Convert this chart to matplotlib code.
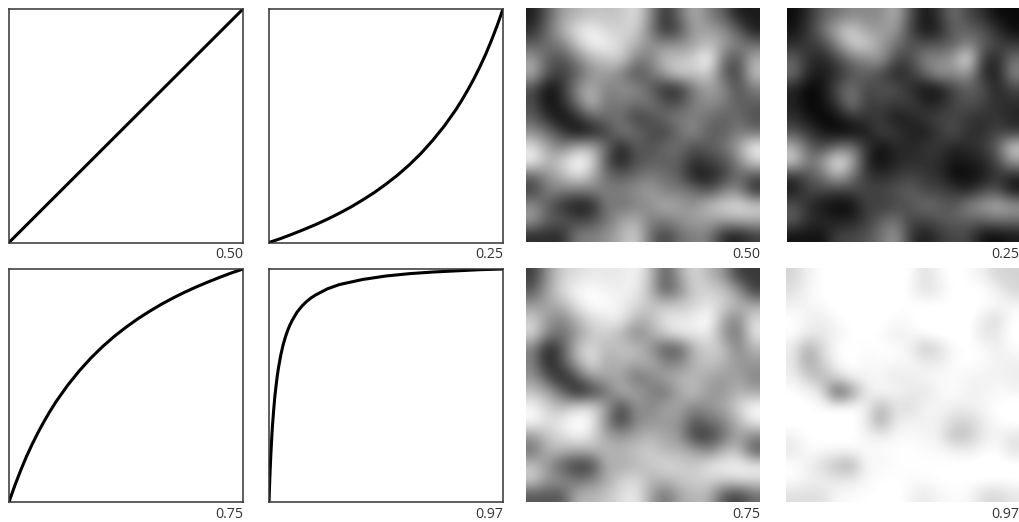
#!/usr/bin/env python3
import matplotlib

matplotlib.use("Agg")
import matplotlib.pyplot as plt
import numpy as np

plt.rcParams["font.family"] = ["Open Sans", "DejaVu Sans"]

W, H = 1019, 522

CURVE_50_X = [0, 1]
CURVE_50 = [0, 1]
CURVE_25_X = [0, .05, .1, .15, .2, .25, .3, .35, .4, .45, .5, .55, .6, .65, .7, .75, .8, .825, .85, .875, .9, .925, .95, .975, 1]
CURVE_25 = [0, .017, .036, .056, .077, .1, .125, .152, .182, .214, .25, .289, .333, .382, .438, .5, .571, .611, .654, .7, .75, .804, .864, .929, 1]
CURVE_75_X = [0, .025, .05, .075, .1, .125, .15, .175, .2, .25, .3, .35, .4, .45, .5, .55, .6, .65, .7, .75, .8, .85, .9, .95, 1]
CURVE_75 = [0, .071, .136, .196, .25, .3, .346, .389, .429, .5, .5625, .618, .667, .711, .75, .786, .818, .848, .875, .9, .923, .944, .964, .983, 1]
CURVE_97_X = [0, .0025, .005, .0075, .01, .0125, .015, .02, .025, .03, .035, .04, .05, .06, .07, .08, .09, .1, .12, .14, .16, .18, .2, .25, .3, .4, .5, .6, .7, .8, .9, 1]
CURVE_97 = [0, .075, .14, .196, .244, .29, .33, .395, .453, .497, .539, .573, .629, .673, .708, .737, .761, .781, .815, .84, .86, .876, .889, .915, .933, .955, .970, .98, .987, .992, .997, 1]

LABELS = ["0.50", "0.25", "0.75", "0.97"]

NOISE_50 = [
    [20, 40, 60, 65, 70, 70, 70, 80, 55, 25, 45, 65, 50, 40, 20, 20],
    [25, 45, 65, 80, 85, 75, 75, 75, 50, 25, 35, 60, 60, 55, 40, 20],
    [40, 45, 50, 70, 85, 85, 75, 65, 55, 55, 55, 60, 70, 60, 50, 45],
    [60, 40, 35, 50, 65, 70, 75, 50, 50, 70, 70, 75, 90, 45, 35, 65],
    [65, 35, 30, 40, 55, 60, 50, 35, 45, 60, 75, 70, 75, 40, 30, 70],
    [35, 15, 25, 55, 65, 50, 55, 55, 40, 25, 25, 50, 60, 55, 35, 50],
    [35, 15, 25, 45, 70, 45, 50, 45, 50, 35, 35, 50, 55, 50, 40, 40],
    [40, 25, 15, 25, 40, 45, 45, 30, 35, 45, 50, 50, 45, 40, 45, 35],
    [55, 45, 30, 15, 20, 30, 50, 45, 35, 30, 45, 55, 40, 40, 50, 45],
    [80, 60, 50, 65, 65, 45, 20, 40, 35, 45, 45, 35, 40, 45, 60, 85],
    [85, 65, 75, 90, 80, 35, 20, 35, 40, 40, 40, 25, 30, 35, 50, 75],
    [40, 55, 65, 80, 65, 45, 40, 45, 50, 45, 40, 20, 20, 30, 45, 35],
    [30, 50, 50, 45, 50, 50, 50, 55, 60, 50, 50, 45, 35, 50, 55, 25],
    [55, 40, 25, 20, 20, 50, 45, 50, 55, 65, 60, 55, 70, 75, 80, 75],
    [60, 40, 40, 30, 35, 45, 60, 65, 50, 50, 55, 60, 60, 60, 65, 65],
    [25, 25, 25, 50, 50, 55, 65, 75, 45, 30, 45, 50, 50, 25, 20, 30],
]
NOISE_25 = [
    [8, 18, 33, 38, 44, 44, 44, 57, 29, 10, 21, 38, 25, 18, 8, 8],
    [10, 21, 38, 57, 65, 50, 50, 50, 25, 10, 15, 33, 33, 29, 18, 8],
    [18, 21, 25, 44, 65, 65, 50, 38, 29, 29, 29, 33, 44, 33, 25, 21],
    [33, 18, 15, 25, 38, 44, 50, 25, 25, 44, 44, 50, 75, 21, 15, 38],
    [38, 15, 12, 18, 29, 33, 25, 15, 21, 33, 50, 44, 50, 18, 12, 44],
    [15, 6, 10, 29, 38, 25, 29, 29, 18, 10, 10, 25, 33, 29, 15, 25],
    [15, 6, 10, 21, 44, 21, 25, 21, 25, 15, 15, 25, 29, 25, 18, 18],
    [18, 10, 6, 10, 18, 21, 21, 12, 15, 21, 25, 25, 21, 18, 21, 15],
    [29, 21, 12, 6, 8, 12, 25, 21, 15, 12, 21, 29, 18, 18, 25, 21],
    [57, 33, 25, 38, 38, 21, 8, 18, 15, 21, 21, 15, 18, 21, 33, 65],
    [65, 38, 50, 75, 57, 15, 8, 15, 18, 18, 18, 10, 12, 15, 25, 50],
    [18, 29, 38, 57, 38, 21, 18, 21, 25, 21, 18, 8, 8, 12, 21, 15],
    [12, 25, 25, 21, 25, 25, 25, 29, 33, 25, 25, 21, 15, 25, 29, 10],
    [29, 18, 10, 8, 8, 25, 21, 25, 29, 38, 33, 29, 44, 50, 57, 50],
    [33, 18, 18, 12, 15, 21, 33, 38, 25, 25, 29, 33, 33, 33, 38, 38],
    [10, 10, 10, 25, 25, 29, 38, 50, 21, 12, 21, 25, 25, 10, 8, 12],
]
NOISE_75 = [
    [43, 67, 82, 85, 88, 88, 88, 92, 79, 50, 71, 85, 75, 67, 43, 43],
    [50, 71, 85, 92, 94, 90, 90, 90, 75, 50, 62, 82, 82, 79, 67, 43],
    [67, 71, 75, 88, 94, 94, 90, 85, 79, 79, 79, 82, 88, 82, 75, 71],
    [82, 67, 62, 75, 85, 88, 90, 75, 75, 88, 88, 90, 96, 71, 62, 85],
    [85, 62, 56, 67, 79, 82, 75, 62, 71, 82, 90, 88, 90, 67, 56, 88],
    [62, 35, 50, 79, 85, 75, 79, 79, 67, 50, 50, 75, 82, 79, 62, 75],
    [62, 35, 50, 71, 88, 71, 75, 71, 75, 62, 62, 75, 79, 75, 67, 67],
    [67, 50, 35, 50, 67, 71, 71, 56, 62, 71, 75, 75, 71, 67, 71, 62],
    [79, 71, 56, 35, 43, 56, 75, 71, 62, 56, 71, 79, 67, 67, 75, 71],
    [92, 82, 75, 85, 85, 71, 43, 67, 62, 71, 71, 62, 67, 71, 82, 94],
    [94, 85, 90, 96, 92, 62, 43, 62, 67, 67, 67, 50, 56, 62, 75, 90],
    [67, 79, 85, 92, 85, 71, 67, 71, 75, 71, 67, 43, 43, 56, 71, 62],
    [56, 75, 75, 71, 75, 75, 75, 79, 82, 75, 75, 71, 62, 75, 79, 50],
    [79, 67, 50, 43, 43, 75, 71, 75, 79, 85, 82, 79, 88, 90, 92, 90],
    [82, 67, 67, 56, 62, 71, 82, 85, 75, 75, 79, 82, 82, 82, 85, 85],
    [50, 50, 50, 75, 75, 79, 85, 90, 71, 56, 71, 75, 75, 50, 43, 56],
]
NOISE_97 = [
    [89, 95, 98, 99, 99, 99, 99, 99, 98, 91, 96, 99, 97, 95, 89, 89],
    [91, 96, 98, 99, 99, 99, 99, 99, 97, 91, 94, 98, 98, 98, 95, 89],
    [95, 96, 97, 99, 99, 99, 99, 98, 98, 98, 98, 98, 99, 98, 97, 96],
    [98, 95, 94, 97, 98, 99, 99, 97, 97, 99, 99, 99, 99, 94, 90, 98],
    [98, 94, 93, 95, 98, 98, 97, 94, 96, 98, 99, 99, 99, 92, 93, 99],
    [94, 80, 90, 98, 98, 97, 98, 98, 95, 86, 90, 97, 98, 98, 94, 97],
    [94, 78, 88, 96, 99, 96, 97, 96, 97, 94, 94, 97, 98, 97, 95, 95],
    [95, 88, 82, 90, 95, 96, 96, 93, 94, 96, 97, 97, 96, 95, 96, 94],
    [98, 96, 93, 60, 75, 93, 97, 96, 94, 92, 96, 98, 95, 95, 97, 96],
    [99, 98, 97, 98, 98, 96, 82, 92, 90, 96, 96, 94, 95, 96, 98, 99],
    [99, 98, 99, 99, 99, 94, 78, 94, 95, 95, 95, 90, 88, 94, 97, 99],
    [95, 98, 98, 99, 98, 96, 95, 96, 97, 96, 95, 84, 86, 93, 96, 92],
    [93, 97, 97, 96, 97, 97, 97, 98, 98, 97, 97, 96, 94, 97, 98, 92],
    [98, 95, 90, 84, 80, 97, 96, 97, 98, 98, 98, 98, 99, 99, 99, 99],
    [98, 95, 95, 93, 94, 96, 98, 98, 97, 97, 98, 98, 98, 98, 98, 98],
    [91, 91, 91, 97, 97, 98, 98, 99, 96, 93, 96, 97, 97, 91, 89, 93],
]


def add_axes(fig, left, top, right, bottom):
    return fig.add_axes([left / W, 1 - bottom / H, (right - left) / W, (bottom - top) / H])


def label(fig, text, right, y):
    fig.text(right / W, 1 - y / H, text, ha="right", va="center", fontsize=10.2, color="#333333")


def draw_curve(fig, box, xs, ys, text):
    ax = add_axes(fig, *box)
    ax.plot(xs, ys, color="black", linewidth=2.2, solid_joinstyle="round", solid_capstyle="butt")
    ax.set_xlim(0, 1)
    ax.set_ylim(0, 1)
    ax.set_xticks([])
    ax.set_yticks([])
    for spine in ax.spines.values():
        spine.set_linewidth(1.1)
        spine.set_color("#333333")
    label(fig, text, box[2], box[3] + 12)


def draw_noise(fig, box, grid, text, vmin, vmax):
    ax = add_axes(fig, *box)
    # stretched limits: the coarse grid loses the extremes of the fine texture
    ax.imshow(np.array(grid), cmap="gray", vmin=vmin, vmax=vmax, interpolation="bicubic", aspect="auto")
    ax.axis("off")
    label(fig, text, box[2], box[3] + 12)


fig = plt.figure(figsize=(W / 100, H / 100), dpi=100)

draw_curve(fig, (9, 9, 243, 242.5), CURVE_50_X, CURVE_50, LABELS[0])
draw_curve(fig, (269, 9, 503, 242.5), CURVE_25_X, CURVE_25, LABELS[1])
draw_curve(fig, (9, 269, 243, 502), CURVE_75_X, CURVE_75, LABELS[2])
draw_curve(fig, (269, 269, 503, 502), CURVE_97_X, CURVE_97, LABELS[3])

draw_noise(fig, (526, 8, 760, 242), NOISE_50, LABELS[0], 12, 88)
draw_noise(fig, (787, 8, 1019, 242), NOISE_25, LABELS[1], 5, 78)
draw_noise(fig, (526, 268, 760, 502), NOISE_75, LABELS[2], 28, 94)
draw_noise(fig, (786, 268, 1019, 502), NOISE_97, LABELS[3], 45, 98)

fig.savefig("out.png", dpi=100)
